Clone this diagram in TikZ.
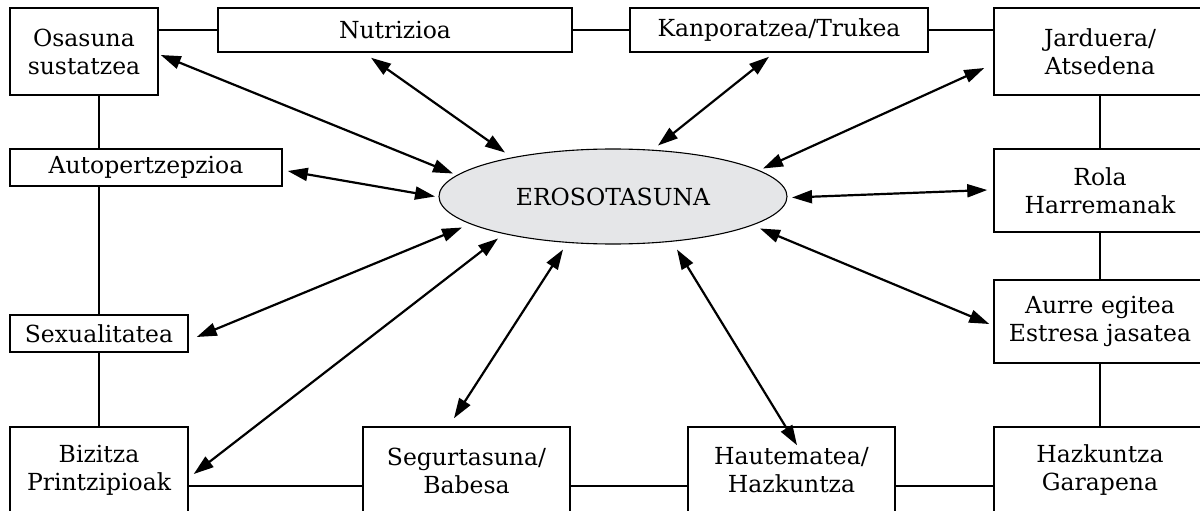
\documentclass[tikz,border=0pt]{standalone}
\usepackage{fontspec}
\setmainfont{DejaVu Serif}
\usetikzlibrary{arrows.meta,shapes.geometric,calc}
\definecolor{ellfill}{HTML}{E5E6E8}
\tikzset{
  box/.style={draw, line width=1.5pt, inner sep=0pt, align=center,
    font=\fontsize{23.5}{28}\selectfont},
  link/.style={line width=1.5pt},
  dart/.style={{Triangle[length=20pt,width=13pt]}-{Triangle[length=20pt,width=13pt]}, line width=2.2pt},
}
\begin{document}
\begin{tikzpicture}[x=1pt,y=-1pt]
\useasboundingbox (0,0) rectangle (1200,511);
\fill[white] (0,0) rectangle (1200,511);
\clip (0,0) rectangle (1200,511);

% outer ring of topics
\node[box, minimum width=148pt, minimum height=87pt] (osa) at (84,51.5) {Osasuna\\sustatzea};
\node[box, minimum width=354pt, minimum height=44pt] (nut) at (395,30) {Nutrizioa};
\node[box, minimum width=298pt, minimum height=44pt] (kan) at (779,30) {Kanporatzea/Trukea};
\node[box, minimum width=212pt, minimum height=87pt] (jar) at (1100,51.5) {Jarduera/\\Atsedena};
\node[box, minimum width=272pt, minimum height=37pt] (aut) at (146,167.5) {Autopertzepzioa};
\node[box, minimum width=212pt, minimum height=83pt] (rol) at (1100,190.5) {Rola\\Harremanak};
\node[box, minimum width=178pt, minimum height=37pt] (sex) at (99,333.5) {Sexualitatea};
\node[box, minimum width=212pt, minimum height=83pt] (aur) at (1100,321.5) {Aurre egitea\\Estresa jasatea};
\node[box, minimum width=178pt, minimum height=87pt] (biz) at (99,470.5) {Bizitza\\Printzipioak};
\node[box, minimum width=207pt, minimum height=87pt] (seg) at (466.5,470.5) {Segurtasuna/\\Babesa};
\node[box, minimum width=207pt, minimum height=87pt] (hau) at (791.5,470.5) {Hautematea/\\Hazkuntza};
\node[box, minimum width=212pt, minimum height=87pt] (haz) at (1100,470.5) {Hazkuntza\\Garapena};

% central ellipse
\node[ellipse, draw, line width=1.1pt, fill=ellfill, minimum width=348pt, minimum height=95pt,
  inner sep=0pt, font=\fontsize{23.5}{28}\selectfont] (ell) at (613,196.5) {EROSOTASUNA};

% frame links between neighbouring boxes
\draw[link] (nut.west -| osa.east) -- (nut.west);
\draw[link] (nut.east) -- (kan.west);
\draw[link] (kan.east) -- (kan.east -| jar.west);
\draw[link] (osa.south -| sex.north) -- (aut.north -| sex.north);
\draw[link] (aut.south -| sex.north) -- (sex.north);
\draw[link] (sex.south) -- (biz.north);
\draw[link] (jar.south) -- (rol.north);
\draw[link] (rol.south) -- (aur.north);
\draw[link] (aur.south) -- (haz.north);
\coordinate (bl) at ([yshift=-15.5pt]biz.east);
\draw[link] (bl) -- (bl -| seg.west);
\draw[link] (seg.east |- bl) -- (hau.west |- bl);
\draw[link] (hau.east |- bl) -- (haz.west |- bl);

% two-way arrows between the centre and every topic
\draw[dart] ($(ell.center)+(-160,-23)$) -- ($(osa.east)+(2,3.5)$);
\draw[dart] ($(ell.center)+(-108,-44)$) -- ($(nut.south)+(-24,5)$);
\draw[dart] ($(ell.center)+(45,-51)$) -- ($(kan.south)+(-10,4)$);
\draw[dart] ($(ell.center)+(150,-28)$) -- ($(jar.west)+(-9,16.5)$);
\draw[dart] ($(ell.center)+(-178,0)$) -- ($(aut.east)+(5,3.5)$);
\draw[dart] ($(ell.center)+(179,1)$) -- ($(rol.west)+(-6,-0.5)$);
\draw[dart] ($(ell.center)+(-151,31)$) -- ($(sex.east)+(8,3.5)$);
\draw[dart] ($(ell.center)+(147,32)$) -- ($(aur.west)+(-4,2.5)$);
\draw[dart] ($(ell.center)+(-115,42)$) -- ($(biz.east)+(5,3.5)$);
\draw[dart] ($(ell.center)+(-50,53)$) -- ($(seg.north)+(-12.5,-8)$);
\draw[dart] ($(ell.center)+(64,53)$) -- ($(hau.north)+(5.5,19)$);
\end{tikzpicture}
\end{document}
